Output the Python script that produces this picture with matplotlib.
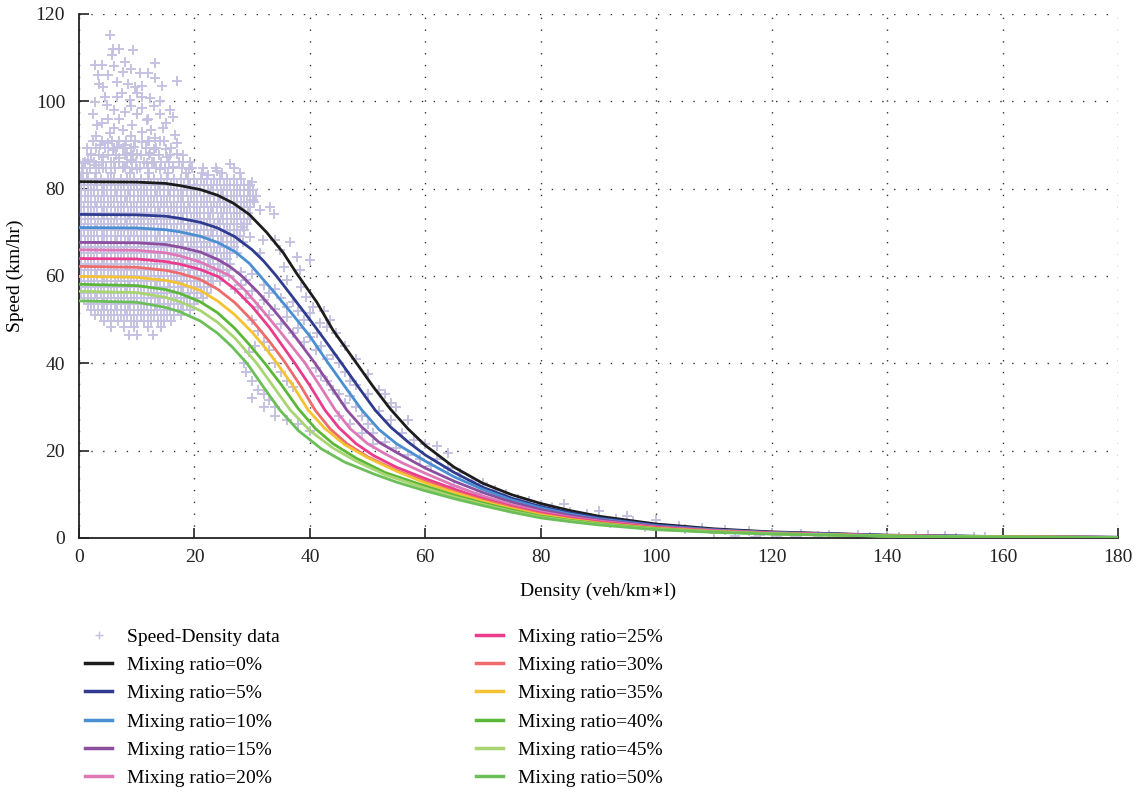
import matplotlib
matplotlib.use('Agg')
import matplotlib.pyplot as plt
from matplotlib.lines import Line2D

plt.rcParams['font.family'] = ['Liberation Serif', 'DejaVu Serif']

# ---------------- data ----------------
labels = ['Mixing ratio=0%', 'Mixing ratio=5%', 'Mixing ratio=10%', 'Mixing ratio=15%',
          'Mixing ratio=20%', 'Mixing ratio=25%', 'Mixing ratio=30%', 'Mixing ratio=35%',
          'Mixing ratio=40%', 'Mixing ratio=45%', 'Mixing ratio=50%']
colors = ['#1c1c1c', '#2e3b8f', '#4a8fd2', '#8c4f9f', '#de78b6', '#ea3b8c',
          '#ef6b6b', '#f4c232', '#5bb738', '#a9d472', '#6cbf58']

d0 = [0, 10, 15, 17.5, 21, 24, 26.7, 29.5, 32.5, 35.4, 37.7, 41.2, 44, 48.1, 51, 53.9, 57, 60, 65, 70, 75, 80, 85, 90, 100, 110, 120, 140, 160, 180]
v0 = [81.6, 81.5, 81.2, 80.7, 79.8, 78.5, 76.7, 74.1, 70.0, 65.3, 60.6, 54.0, 47.6, 40.0, 34.6, 29.6, 25.0, 21.2, 16.2, 12.5, 9.9, 7.9, 6.3, 5.0, 3.2, 2.1, 1.4, 0.65, 0.32, 0.16]
d1 = [0, 10, 15, 17.5, 21, 24, 27, 30, 32, 34.2, 37, 40, 42.5, 45.5, 48.5, 51.3, 54, 57, 60, 65, 70, 75, 80, 85, 90, 100, 110, 120, 140, 160, 180]
v1 = [74.1, 74.0, 73.7, 73.2, 72.3, 71.0, 69.0, 66.0, 63.4, 60.0, 55.2, 50.0, 45.5, 40.0, 34.4, 29.3, 25.4, 22.0, 19.0, 15.0, 11.6, 9.1, 7.2, 5.8, 4.6, 2.95, 1.95, 1.3, 0.6, 0.3, 0.15]
d2 = [0, 10, 15, 17.5, 21, 24, 27, 29.5, 31.4, 34, 37, 40, 43.2, 46, 49, 52, 55, 60, 65, 70, 75, 80, 85, 90, 100, 110, 120, 140, 160, 180]
v2 = [71.1, 71.0, 70.6, 70.1, 69.1, 67.7, 65.6, 62.9, 60.0, 56.0, 51.2, 46.2, 40.0, 34.8, 29.3, 24.8, 21.6, 17.6, 14.0, 11.1, 8.7, 6.9, 5.5, 4.4, 2.8, 1.85, 1.25, 0.58, 0.29, 0.15]
d3 = [0, 10, 15, 17.5, 21, 24, 26.2, 28.2, 31, 34, 37, 40.9, 43.5, 46.4, 49, 52, 55, 60, 65, 70, 75, 80, 85, 90, 100, 110, 120, 140, 160, 180]
v3 = [67.7, 67.6, 67.2, 66.6, 65.5, 63.8, 62.1, 60.0, 56.3, 51.8, 46.9, 40.0, 35.0, 29.3, 25.4, 21.9, 19.6, 16.0, 13.0, 10.4, 8.2, 6.5, 5.2, 4.2, 2.65, 1.75, 1.2, 0.55, 0.28, 0.14]
d4 = [0, 10, 15, 17.5, 21, 24, 26.2, 29, 32, 35, 39.2, 42, 44.4, 47, 50, 53, 56, 60, 65, 70, 75, 80, 85, 90, 100, 110, 120, 140, 160, 180]
v4 = [66.0, 65.9, 65.3, 64.6, 63.2, 61.4, 60.0, 56.4, 51.8, 47.0, 40.0, 34.3, 29.3, 25.0, 21.6, 19.3, 17.2, 14.8, 12.0, 9.6, 7.6, 6.0, 4.8, 3.9, 2.5, 1.7, 1.15, 0.53, 0.27, 0.14]
d5 = [0, 10, 15, 17.5, 21, 24.2, 27, 30, 33, 37.4, 40, 42.6, 45, 48, 51, 55, 60, 65, 70, 75, 80, 85, 90, 100, 110, 120, 140, 160, 180]
v5 = [64.0, 63.9, 63.3, 62.7, 61.5, 59.8, 57.0, 53.0, 48.2, 40.0, 34.9, 29.3, 25.3, 21.6, 18.9, 16.2, 13.6, 11.2, 9.0, 7.2, 5.7, 4.6, 3.7, 2.4, 1.6, 1.1, 0.5, 0.26, 0.13]
d6 = [0, 10, 15, 17.5, 21, 24, 27, 30, 33, 35.6, 38.5, 40.9, 43.5, 46.5, 50, 55, 60, 65, 70, 75, 80, 85, 90, 100, 110, 120, 140, 160, 180]
v6 = [62.2, 62.0, 61.3, 60.6, 59.2, 57.0, 53.9, 49.8, 45.0, 40.4, 34.6, 29.3, 25.0, 21.5, 18.6, 15.5, 13.0, 10.7, 8.7, 7.0, 5.5, 4.4, 3.55, 2.3, 1.55, 1.05, 0.48, 0.25, 0.13]
d7 = [0, 10, 15, 17.5, 21, 24, 27, 30, 32.3, 34.3, 37, 39.7, 42.5, 46, 50, 55, 60, 65, 70, 75, 80, 85, 90, 100, 110, 120, 140, 160, 180]
v7 = [59.9, 59.7, 59.0, 58.3, 56.7, 54.3, 51.1, 47.1, 43.5, 40.0, 35.0, 29.3, 25.2, 21.4, 18.4, 15.3, 12.6, 10.4, 8.4, 6.7, 5.3, 4.25, 3.4, 2.2, 1.5, 1.0, 0.46, 0.24, 0.12]
d8 = [0, 10, 15, 17.5, 21, 24, 27, 29.5, 32.2, 35, 38, 41, 44, 48, 53, 60, 65, 70, 75, 80, 85, 90, 100, 110, 120, 140, 160, 180]
v8 = [58.1, 57.8, 56.9, 56.0, 54.1, 51.6, 48.0, 44.3, 40.0, 35.2, 29.6, 25.0, 21.6, 18.3, 15.0, 11.9, 9.8, 8.0, 6.4, 5.0, 4.05, 3.3, 2.1, 1.45, 0.98, 0.45, 0.23, 0.12]
d9 = [0, 10, 15, 17.5, 21, 24, 27, 30.8, 33.5, 36.6, 40, 44, 48, 53, 60, 65, 70, 75, 80, 85, 90, 100, 110, 120, 140, 160, 180]
v9 = [56.5, 56.2, 55.1, 54.1, 52.1, 49.4, 45.8, 40.0, 35.0, 29.3, 24.6, 20.6, 17.6, 14.5, 11.4, 9.4, 7.7, 6.1, 4.8, 3.9, 3.15, 2.0, 1.4, 0.95, 0.44, 0.22, 0.11]
d10 = [0, 10, 15, 17.5, 21, 24, 26.5, 29.1, 32, 34.8, 38, 42, 46, 51, 55, 60, 65, 70, 75, 80, 85, 90, 100, 110, 120, 140, 160, 180]
v10 = [54.3, 54.0, 52.8, 51.8, 49.7, 46.9, 43.8, 40.0, 34.5, 29.3, 24.6, 20.4, 17.4, 14.7, 12.8, 10.8, 9.0, 7.4, 5.9, 4.6, 3.75, 3.0, 1.9, 1.3, 0.9, 0.42, 0.21, 0.1]

curve_density = [d0, d1, d2, d3, d4, d5, d6, d7, d8, d9, d10]
curve_speed = [v0, v1, v2, v3, v4, v5, v6, v7, v8, v9, v10]

# scattered observations: (density, speed)
high_speed_pts = [
    (5.3, 115.2), (9.4, 111.7), (5.9, 111.9), (5.7, 110.6), (13.2, 108.8), (2.8, 108.3), (3.9, 108.3),
    (10.6, 106.4), (7.7, 106.8), (13.2, 105.3), (16.9, 104.6), (14.3, 103.4), (3.3, 106.0), (4.2, 103.3),
    (6.5, 104.5), (9.7, 103.3), (12.3, 100.7), (2.8, 99.9), (4.8, 99.2), (8.8, 100.3), (15.8, 98.0),
    (16.3, 96.5), (3.1, 94.6), (11.7, 95.7), (9.1, 94.6), (14.6, 93.8), (5.4, 92.7), (7.7, 93.4),
    (16.6, 92.3), (3.6, 90.0), (10.9, 90.7), (13.2, 91.5), (16.9, 90.4), (4.2, 87.3), (5.9, 88.8),
    (8.3, 88.1), (12.3, 88.1), (15.2, 87.3), (0.75, 85.8), (11.7, 85.8), (16.3, 85.0), (26.2, 85.6),
    (22.4, 83.1), (23.9, 84.1), (1.3, 83.5), (4.2, 84.7), (29.9, 81.6), (29.3, 80.8),
    (6.0, 98.0), (7.0, 96.0), (8.0, 97.5), (9.0, 99.0), (10.0, 97.0), (11.0, 98.5), (12.0, 96.0),
    (6.5, 101.0), (7.5, 102.0), (8.5, 104.0), (10.0, 102.0), (11.0, 101.0), (13.0, 99.0), (14.0, 97.0),
    (5.0, 96.0), (6.0, 94.0), (7.0, 91.0), (8.0, 90.0), (9.0, 92.0), (10.0, 88.0), (11.0, 93.0),
    (12.0, 91.0), (13.0, 89.0), (14.0, 91.0), (15.0, 89.0), (6.0, 86.0), (7.0, 87.0), (8.0, 85.0),
    (9.0, 86.5), (10.0, 84.5), (13.0, 86.0), (14.0, 84.5), (17.0, 88.0), (18.0, 86.0), (19.0, 84.5),
    (3.0, 92.0), (4.0, 95.0), (2.5, 97.0), (4.5, 101.0), (3.5, 104.0), (5.0, 106.0), (6.0, 108.0),
    (8.0, 109.0), (7.0, 112.0), (9.0, 107.5), (12.0, 106.5), (11.0, 103.5), (14.0, 100.0), (15.0, 95.0),
    (2.0, 88.0), (1.5, 86.5), (3.0, 85.5), (5.0, 90.5), (9.5, 89.5), (12.5, 93.5), (6.5, 89.5),
]

blob_rows = [
    (91.0, [2.4, 4.0, 5.8, 8.1, 9.7, 12.1, 14.8]),
    (89.3, [1.4, 3.0, 4.5, 6.1, 7.6, 9.0, 11.6, 13.3, 16.0]),
    (87.7, [2.0, 3.5, 5.0, 6.4, 7.9, 9.3, 10.8, 12.2, 13.9, 15.8, 18.1]),
    (86.2, [1.1, 2.6, 4.0, 5.5, 6.9, 8.4, 9.8, 11.3, 12.7, 14.2, 15.6, 17.4, 19.3]),
    (84.8, [0.5, 1.9, 3.4, 4.7, 6.3, 7.6, 9.1, 10.5, 12.0, 13.4, 14.9, 16.3, 17.8, 19.6, 21.5, 23.8, 26.9]),
    (83.5, [0.7, 2.9, 5.6, 8.8, 12.1, 15.4, 18.6, 21.3, 24.7, 27.9]),
    (82.2, [0.4, 1.5, 2.7, 3.8, 5.0, 6.1, 7.3, 8.4, 9.6, 10.7, 11.9, 13.0, 14.2, 15.3, 16.5, 17.6, 18.8, 19.9, 21.1, 22.2, 23.4, 24.5, 25.7, 26.8, 28.0]),
    (80.9, [0.9, 2.1, 3.2, 4.4, 5.5, 6.7, 7.8, 9.0, 10.1, 11.3, 12.4, 13.6, 14.7, 15.9, 17.0, 18.2, 19.3, 20.5, 21.6, 22.8, 23.9, 25.1, 26.2, 27.4, 28.5, 29.7]),
    (79.6, [0.3, 1.6, 2.6, 3.9, 4.9, 6.2, 7.2, 8.5, 9.5, 10.8, 11.8, 13.1, 14.1, 15.4, 16.4, 17.7, 18.7, 20.0, 21.0, 22.3, 23.3, 24.6, 25.6, 26.9, 27.9, 29.2, 30.2]),
    (78.3, [1.0, 2.0, 3.3, 4.3, 5.6, 6.6, 7.9, 8.9, 10.2, 11.2, 12.5, 13.5, 14.8, 15.8, 17.1, 18.1, 19.4, 20.4, 21.7, 22.7, 24.0, 25.0, 26.3, 27.3, 28.6, 29.6, 30.7]),
    (77.0, [0.4, 1.5, 2.7, 3.8, 5.0, 6.1, 7.3, 8.4, 9.6, 10.7, 11.9, 13.0, 14.2, 15.3, 16.5, 17.6, 18.8, 19.9, 21.1, 22.2, 23.4, 24.5, 25.7, 26.8, 28.0, 29.1, 30.3]),
    (75.7, [0.9, 2.1, 3.2, 4.4, 5.5, 6.7, 7.8, 9.0, 10.1, 11.3, 12.4, 13.6, 14.7, 15.9, 17.0, 18.2, 19.3, 20.5, 21.6, 22.8, 23.9, 25.1, 26.2, 27.4, 28.5, 29.7]),
    (74.4, [0.3, 1.6, 2.6, 3.9, 4.9, 6.2, 7.2, 8.5, 9.5, 10.8, 11.8, 13.1, 14.1, 15.4, 16.4, 17.7, 18.7, 20.0, 21.0, 22.3, 23.3, 24.6, 25.6, 26.9, 27.9, 29.2]),
    (73.1, [1.0, 2.0, 3.3, 4.3, 5.6, 6.6, 7.9, 8.9, 10.2, 11.2, 12.5, 13.5, 14.8, 15.8, 17.1, 18.1, 19.4, 20.4, 21.7, 22.7, 24.0, 25.0, 26.3, 27.3, 28.6, 29.6]),
    (71.8, [0.4, 1.5, 2.7, 3.8, 5.0, 6.1, 7.3, 8.4, 9.6, 10.7, 11.9, 13.0, 14.2, 15.3, 16.5, 17.6, 18.8, 19.9, 21.1, 22.2, 23.4, 24.5, 25.7, 26.8, 28.0, 29.1]),
    (70.5, [0.9, 2.1, 3.2, 4.4, 5.5, 6.7, 7.8, 9.0, 10.1, 11.3, 12.4, 13.6, 14.7, 15.9, 17.0, 18.2, 19.3, 20.5, 21.6, 22.8, 23.9, 25.1, 26.2, 27.4, 28.5]),
    (69.2, [0.3, 1.6, 2.6, 3.9, 4.9, 6.2, 7.2, 8.5, 9.5, 10.8, 11.8, 13.1, 14.1, 15.4, 16.4, 17.7, 18.7, 20.0, 21.0, 22.3, 23.3, 24.6, 25.6, 26.9, 27.9]),
    (67.9, [1.0, 2.0, 3.3, 4.3, 5.6, 6.6, 7.9, 8.9, 10.2, 11.2, 12.5, 13.5, 14.8, 15.8, 17.1, 18.1, 19.4, 20.4, 21.7, 22.7, 24.0, 25.0, 26.3, 27.3, 28.4]),
    (66.6, [0.4, 1.5, 2.7, 3.8, 5.0, 6.1, 7.3, 8.4, 9.6, 10.7, 11.9, 13.0, 14.2, 15.3, 16.5, 17.6, 18.8, 19.9, 21.1, 22.2, 23.4, 24.5, 25.7, 26.8]),
    (65.3, [0.9, 2.1, 3.2, 4.4, 5.5, 6.7, 7.8, 9.0, 10.1, 11.3, 12.4, 13.6, 14.7, 15.9, 17.0, 18.2, 19.3, 20.5, 21.6, 22.8, 23.9, 25.1, 26.2, 27.3]),
    (64.0, [0.3, 1.6, 2.6, 3.9, 4.9, 6.2, 7.2, 8.5, 9.5, 10.8, 11.8, 13.1, 14.1, 15.4, 16.4, 17.7, 18.7, 20.0, 21.0, 22.3, 23.3, 24.6, 25.6]),
    (62.7, [1.0, 2.0, 3.3, 4.3, 5.6, 6.6, 7.9, 8.9, 10.2, 11.2, 12.5, 13.5, 14.8, 15.8, 17.1, 18.1, 19.4, 20.4, 21.7, 22.7, 24.0, 25.0, 26.1]),
    (61.4, [0.4, 1.5, 2.7, 3.8, 5.0, 6.1, 7.3, 8.4, 9.6, 10.7, 11.9, 13.0, 14.2, 15.3, 16.5, 17.6, 18.8, 19.9, 21.1, 22.2, 23.4, 24.5, 25.6]),
    (60.1, [0.9, 2.1, 3.2, 4.4, 5.5, 6.7, 7.8, 9.0, 10.1, 11.3, 12.4, 13.6, 14.7, 15.9, 17.0, 18.2, 19.3, 20.5, 21.6, 22.8, 23.9, 25.0]),
    (58.8, [0.3, 1.6, 2.6, 3.9, 4.9, 6.2, 7.2, 8.5, 9.5, 10.8, 11.8, 13.1, 14.1, 15.4, 16.4, 17.7, 18.7, 20.0, 21.0, 22.3, 23.3, 24.4]),
    (57.5, [1.0, 2.0, 3.3, 4.3, 5.6, 6.6, 7.9, 8.9, 10.2, 11.2, 12.5, 13.5, 14.8, 15.8, 17.1, 18.1, 19.4, 20.4, 21.7, 22.8]),
    (56.2, [0.4, 1.5, 2.7, 3.8, 5.0, 6.1, 7.3, 8.4, 9.6, 10.7, 11.9, 13.0, 14.2, 15.3, 16.5, 17.6, 18.8, 19.9, 21.1, 22.2]),
    (54.9, [0.9, 2.1, 3.2, 4.4, 5.5, 6.7, 7.8, 9.0, 10.1, 11.3, 12.4, 13.6, 14.7, 15.9, 17.0, 18.2, 19.3, 20.5, 21.5]),
    (53.6, [1.6, 2.6, 3.9, 4.9, 6.2, 7.2, 8.5, 9.5, 10.8, 11.8, 13.1, 14.1, 15.4, 16.4, 17.7, 18.7, 20.0]),
    (52.3, [2.0, 3.3, 4.3, 5.6, 6.6, 7.9, 8.9, 10.2, 11.2, 12.5, 13.5, 14.8, 15.8, 17.1, 18.1, 19.2]),
    (51.0, [2.7, 3.8, 5.0, 6.1, 7.3, 8.4, 9.6, 10.7, 11.9, 13.0, 14.2, 15.3, 16.5, 17.6]),
    (49.7, [4.4, 5.5, 6.7, 7.8, 9.0, 10.1, 11.3, 12.4, 13.6, 14.7, 15.9]),
    (48.4, [5.5, 7.8, 9.6, 11.9, 14.2]),
    (46.6, [8.6, 10.1, 12.8]),
]

transition_pts = [
    (36.6, 67.9), (37.7, 64.4), (34.8, 65.9), (34.0, 68.2), (31.4, 65.3), (40.0, 63.7), (38.3, 61.4),
    (36.0, 59.1), (39.4, 55.3), (40.6, 53.0), (41.8, 49.2), (42.9, 48.4), (44.6, 46.9), (41.2, 46.9),
    (33.7, 74.3), (33.1, 75.9), (30.2, 77.4), (31.4, 75.1), (31.9, 68.2), (29.6, 69.0), (28.4, 71.3),
    (28.0, 58.0), (29.0, 55.0), (30.0, 56.5), (31.0, 53.0), (32.0, 54.5), (33.0, 51.0), (34.0, 52.5),
    (35.0, 49.0), (36.0, 50.5), (37.0, 47.0), (38.0, 48.0), (39.0, 45.0), (40.0, 46.0), (41.0, 43.0),
    (42.0, 44.0), (43.0, 41.0), (44.0, 42.0), (30.0, 50.0), (31.0, 47.5), (32.0, 45.0), (33.0, 43.0),
    (34.0, 40.0), (35.0, 38.0), (36.0, 36.0), (37.0, 34.5), (29.0, 38.0), (30.0, 36.0), (31.0, 34.0),
    (32.0, 33.0), (33.0, 31.5), (34.0, 30.0), (28.5, 40.0), (29.5, 42.5), (30.5, 44.0), (26.0, 60.0),
    (27.0, 57.0), (28.0, 61.0), (29.0, 59.0), (30.0, 60.5), (32.0, 58.0), (33.0, 56.0), (34.0, 57.0),
    (35.0, 55.0), (36.0, 53.0), (37.0, 54.0), (38.0, 52.0), (39.0, 50.0), (40.0, 51.5), (41.0, 39.0),
    (42.0, 37.0), (43.0, 36.0), (44.0, 34.0), (45.0, 33.0), (46.0, 31.0), (47.0, 32.5), (48.0, 30.0),
    (49.0, 28.0), (50.0, 26.0), (46.0, 38.0), (47.0, 36.0), (48.0, 35.0), (45.0, 40.0), (50.0, 33.0),
    (52.0, 29.0), (54.0, 27.0), (56.0, 24.0), (58.0, 22.5), (60.0, 21.5), (51.0, 24.0), (53.0, 22.0),
    (55.0, 20.5), (57.0, 19.0), (59.0, 18.0), (61.0, 16.5), (45.0, 28.0), (47.0, 26.0), (49.0, 24.0),
    (51.0, 21.5), (30.0, 32.0), (32.0, 30.0), (34.0, 28.0), (36.0, 27.0), (38.0, 26.0), (40.0, 24.5),
    (46.0, 44.0), (48.0, 41.0), (50.0, 37.5), (52.0, 34.0), (54.0, 31.0), (57.0, 27.0), (55.0, 30.0),
    (53.0, 33.0), (62.0, 21.0), (64.0, 19.5), (42.5, 52.0), (43.5, 50.0), (38.5, 57.5), (35.5, 62.0),
]

tail_pts = [
    (62, 18), (64, 16), (66, 15), (68, 13), (70, 12.5), (72, 11), (74, 10), (76, 9), (78, 8.5),
    (80, 7.5), (82, 7), (85, 6), (88, 5.5), (90, 4.8), (93, 4.3), (96, 3.8), (100, 3.2), (104, 2.7),
    (108, 2.2), (112, 1.8), (116, 1.5), (120, 1.2), (125, 1.0), (130, 0.8), (135, 0.6), (140, 0.5),
    (145, 0.45), (150, 0.35), (155, 0.3), (65, 12), (69, 10), (73, 8.5), (77, 6.5), (81, 5.5),
    (86, 4.5), (92, 3.5), (98, 2.5), (105, 2.0), (110, 1.2), (118, 0.8), (124, 0.3), (128, 0.5),
    (137, 0.3), (142, 0.2), (147, 0.6), (152, 0.1), (100, 4.2), (95, 5.0), (90, 6.2), (84, 7.8),
    (113.7, 0.4), (117.1, 0.2), (120.9, 0.5), (157, 0.2),
]

x_ticks = [0, 20, 40, 60, 80, 100, 120, 140, 160, 180]
y_ticks = [0, 20, 40, 60, 80, 100, 120]
scatter_label = 'Speed-Density data'
x_label = 'Density (veh/km\u2217l)'
y_label = 'Speed (km/hr)'
scatter_color = '#c4c0e2'

# ---------------- figure ----------------
W, H = 1139, 797
fig = plt.figure(figsize=(W / 100, H / 100), dpi=100)
ax = fig.add_axes([79 / W, 1 - 538 / H, (1118 - 79) / W, (538 - 14) / H])

sx, sy = [], []
for d, v in high_speed_pts + transition_pts + tail_pts:
    sx.append(d)
    sy.append(v)
for v, ds in blob_rows:
    for d in ds:
        sx.append(d)
        sy.append(v)

ax.plot(sx, sy, linestyle='none', marker='+', ms=6.5, mew=1.35,
        color=scatter_color, zorder=2, clip_on=True)

for dd, vv, c in zip(curve_density, curve_speed, colors):
    ax.plot(dd, vv, color=c, lw=2.0, zorder=3, solid_joinstyle='round')

ax.set_xlim(0, 180)
ax.set_ylim(0, 120)
ax.set_xticks(x_ticks)
ax.set_yticks(y_ticks)
ax.grid(True, linestyle=(0, (1.0, 7.5)), color='#333333', linewidth=1.0)
ax.set_axisbelow(True)
for s in ['top', 'right']:
    ax.spines[s].set_visible(False)
for s in ['left', 'bottom']:
    ax.spines[s].set_linewidth(1.3)
    ax.spines[s].set_color('#222222')
ax.tick_params(direction='in', length=7, width=1.2, labelsize=14, pad=8, colors='#222222')
ax.tick_params(axis='y', pad=10)
ax.set_xlabel(x_label, fontsize=14, labelpad=12)
ax.set_ylabel(y_label, fontsize=14, labelpad=8)

handles = [Line2D([], [], linestyle='none', marker='+', ms=6, mew=1.0, color=scatter_color)]
for c in colors:
    handles.append(Line2D([], [], color=c, lw=2.5))
leg = fig.legend(handles, [scatter_label] + labels, loc='upper left',
                 bbox_to_anchor=(85 / W, 1 - 628 / H), ncol=2, frameon=False,
                 fontsize=14, handlelength=1.4, handletextpad=0.75,
                 labelspacing=0.55, columnspacing=10.1, borderaxespad=0, borderpad=0)

fig.savefig('out.png', dpi=100)
